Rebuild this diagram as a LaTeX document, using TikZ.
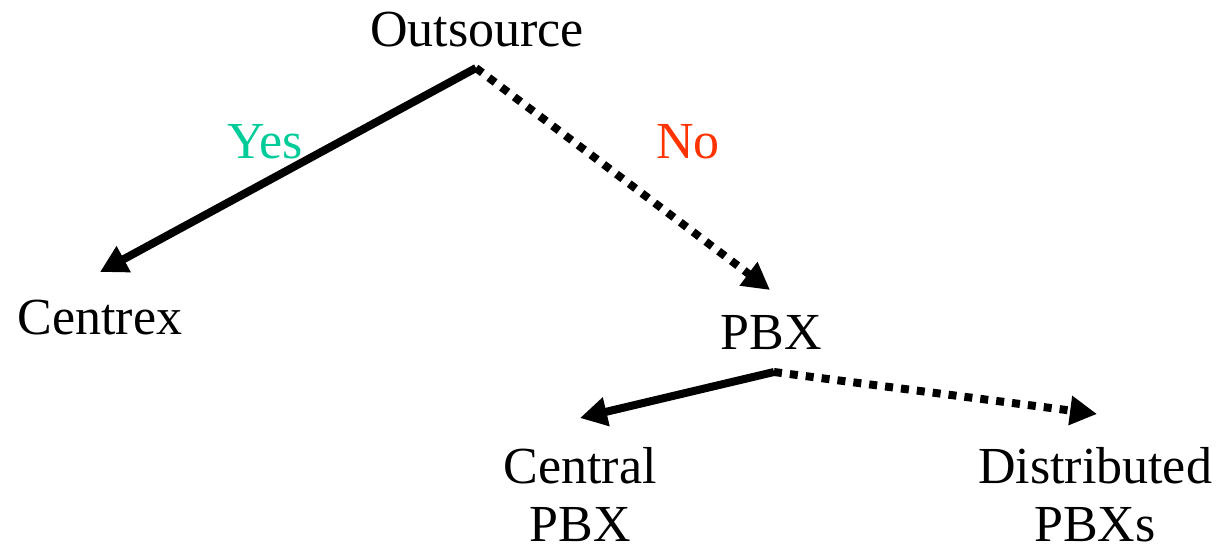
\documentclass[tikz,border=0pt]{standalone}
\usepackage{fontspec}
\setmainfont{Liberation Serif}
\usetikzlibrary{arrows.meta}
\definecolor{yesgreen}{RGB}{0,204,153}
\definecolor{nored}{RGB}{255,51,0}
\begin{document}
\begin{tikzpicture}[x=1pt,y=-1pt,
  lbl/.style={anchor=base,inner sep=0pt,font=\fontsize{52}{58}\selectfont},
  two/.style={lbl,align=center},
  branch/.style={line width=8pt,-{Triangle[length=27pt,width=28pt]}},
  dotbranch/.style={branch,dash pattern=on 8pt off 8pt}]
\useasboundingbox (0,0) rectangle (1227,554);
% labels
\node[lbl] (out) at (477,46) {Outsource};
\node[lbl] (ctx) at (100,334) {Centrex};
\node[lbl] (pbx) at (771,349) {PBX};
\node[two] (cpbx) at (580,541) {Central\\PBX};
\node[two] (dpbx) at (1095,541) {Distributed\\PBXs};
\node[lbl,text=yesgreen] (yes) at (265,158) {Yes};
\node[lbl,text=nored] (no) at (688,158) {No};
% branch points and arrow tips
\coordinate (outS) at (476,68);
\coordinate (pbxS) at (774,372);
\coordinate (ctxT) at (100,272);
\coordinate (pbxT) at (770,290);
\coordinate (cpbxT) at (580,418);
\coordinate (dpbxT) at (1097,414);
% connectors
\draw[branch] (outS) -- (ctxT);
\draw[dotbranch] (outS) -- (pbxT);
\draw[branch] (pbxS) -- (cpbxT);
\draw[dotbranch] (pbxS) -- (dpbxT);
\end{tikzpicture}
\end{document}
